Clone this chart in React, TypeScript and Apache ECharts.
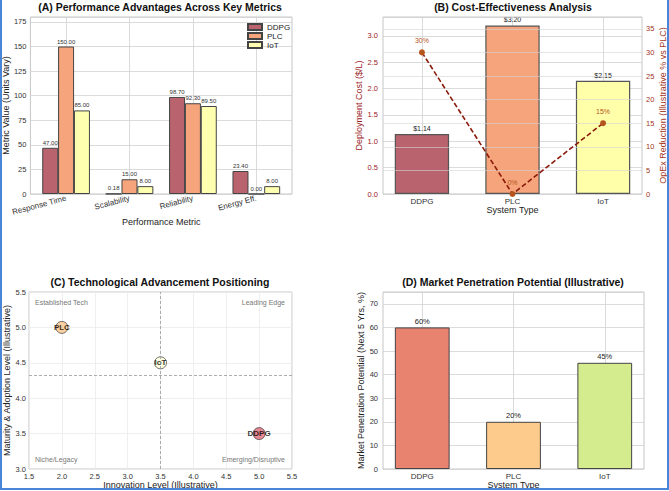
import React, { useEffect, useRef } from "react";
import * as echarts from "echarts";

// ---- data ----
const systems = ["DDPG", "PLC", "IoT"];
const metrics = ["Response Time", "Scalability", "Reliability", "Energy Eff."];
const perfDDPG = [47.0, 0.18, 98.7, 23.4];
const perfPLC = [150.0, 15.0, 92.3, 0.0];
const perfIoT = [85.0, 8.0, 89.5, 8.0];

const deploymentCost = [1.14, 3.2, 2.15];
const opexReduction = [30, 0, 15];

const innovationLevel = [5.0, 2.0, 3.5];
const maturityLevel = [3.5, 5.0, 4.5];

const marketPotential = [60, 20, 45];

const quadrantLabels = ["Established Tech", "Leading Edge", "Niche/Legacy", "Emerging/Disruptive"];

// ---- styling ----
const FONT = "'Liberation Sans', Arial, sans-serif";
const perfColors = ["#b8636e", "#f6a47c", "#ffffb0"];
const costColors = ["#b8636e", "#f6a47c", "#ffffaa"];
const posColors = ["#e06b78", "#fdc78b", "#fefed8"];
const marketColors = ["#e8836f", "#fdcc8c", "#d5ec8e"];
const GRID_LINE = "#d2d2d2";
const FRAME = "#c6c6c6";
const COST_RED = "#9b2226";
const OPEX_RED = "#a3361c";
const OPEX_MARK = "#b5551d";

const grids = [
  { left: 28, top: 17, width: 264, height: 177 },
  { left: 383, top: 17, width: 259, height: 177 },
  { left: 29, top: 292, width: 263, height: 177 },
  { left: 383, top: 292, width: 261, height: 177 },
];

const catMin = -0.43;
const catMax = 2.43;
const perfMin = -0.5625;
const perfMax = 3.5625;

const tickLabel = { fontSize: 7.5, color: "#333", fontFamily: FONT };
const axisName = { fontSize: 9, color: "#222", fontFamily: FONT };

function mean(a: number[]) {
  return a.reduce((s, v) => s + v, 0) / a.length;
}

function buildOption() {
  const perfSeries = [perfDDPG, perfPLC, perfIoT];
  const perfBarPx = (0.25 * grids[0].width) / (perfMax - perfMin);
  const costBarPx = (0.6 * grids[1].width) / (catMax - catMin);
  const marketBarPx = (0.6 * grids[3].width) / (catMax - catMin);

  const baseAxis = (gridIndex: number) => ({
    type: "value" as const,
    gridIndex,
    axisLine: { show: false },
    axisTick: { show: false },
    splitLine: { show: true, lineStyle: { color: GRID_LINE, width: 0.8 } },
    nameLocation: "middle" as const,
    nameTextStyle: axisName,
  });

  const series: any[] = [];

  // (A) grouped bars
  perfSeries.forEach((vals, k) => {
    series.push({
      type: "bar",
      name: systems[k],
      xAxisIndex: 0,
      yAxisIndex: 0,
      barWidth: perfBarPx,
      barGap: "-100%",
      data: vals.map((v, i) => [i + (k - 1) * 0.25, v]),
      itemStyle: { color: perfColors[k], borderColor: "#444", borderWidth: 1 },
      label: {
        show: true,
        position: "top",
        distance: 2,
        fontSize: 6,
        color: "#333",
        fontFamily: FONT,
        formatter: (p: any) => p.value[1].toFixed(2),
      },
    });
  });

  // (B) deployment cost bars
  series.push({
    type: "bar",
    name: "cost",
    xAxisIndex: 1,
    yAxisIndex: 1,
    barWidth: costBarPx,
    data: deploymentCost.map((v, i) => ({
      value: [i, v],
      itemStyle: { color: costColors[i] },
    })),
    itemStyle: { borderColor: "#555", borderWidth: 1.2 },
    label: {
      show: true,
      position: "top",
      distance: 2,
      fontSize: 7,
      color: "#222",
      fontFamily: FONT,
      formatter: (p: any) => "$" + p.value[1].toFixed(2),
    },
  });

  // (B) OpEx reduction line on the right axis
  series.push({
    type: "line",
    name: "opex",
    xAxisIndex: 1,
    yAxisIndex: 2,
    z: 5,
    data: opexReduction.map((v, i) => [i, v]),
    lineStyle: { color: "#8b1a0a", width: 1.6, type: [5, 2.5] },
    symbol: "circle",
    symbolSize: 6,
    itemStyle: { color: OPEX_MARK },
    label: {
      show: true,
      position: "top",
      distance: 5,
      fontSize: 7,
      color: OPEX_MARK,
      fontFamily: FONT,
      formatter: (p: any) => p.value[1] + "%",
    },
  });

  // (C) positioning scatter
  series.push({
    type: "scatter",
    name: "position",
    xAxisIndex: 2,
    yAxisIndex: 3,
    symbolSize: 12,
    data: systems.map((s, i) => ({
      name: s,
      value: [innovationLevel[i], maturityLevel[i]],
      itemStyle: { color: posColors[i] },
    })),
    itemStyle: { borderColor: "#222", borderWidth: 0.8 },
    label: {
      show: true,
      position: "inside",
      formatter: (p: any) => p.name,
      fontSize: 8,
      fontWeight: "bold",
      color: "#000",
      fontFamily: FONT,
    },
    markLine: {
      silent: true,
      symbol: "none",
      label: { show: false },
      lineStyle: { color: "#999", width: 0.8, type: [3, 2] },
      data: [{ xAxis: mean(innovationLevel) }, { yAxis: mean(maturityLevel) }],
    },
  });

  // (D) market penetration bars
  series.push({
    type: "bar",
    name: "market",
    xAxisIndex: 3,
    yAxisIndex: 4,
    barWidth: marketBarPx,
    data: marketPotential.map((v, i) => ({
      value: [i, v],
      itemStyle: { color: marketColors[i] },
    })),
    itemStyle: { borderColor: "#444", borderWidth: 1 },
    label: {
      show: true,
      position: "top",
      distance: 2,
      fontSize: 7.5,
      color: "#222",
      fontFamily: FONT,
      formatter: (p: any) => p.value[1] + "%",
    },
  });

  const title = (text: string, x: number, y: number) => ({
    type: "text",
    x,
    y,
    z: 10,
    style: {
      text,
      fill: "#111",
      fontSize: 10.5,
      fontWeight: "bold",
      fontFamily: FONT,
      align: "center",
      verticalAlign: "middle",
      textAlign: "center",
      textVerticalAlign: "middle",
    },
  });
  const note = (text: string, x: number, y: number, align: string) => ({
    type: "text",
    x,
    y,
    z: 10,
    style: {
      text,
      fill: "#777",
      fontSize: 7,
      fontFamily: FONT,
      align,
      verticalAlign: "middle",
      textAlign: align,
      textVerticalAlign: "middle",
    },
  });

  const indexTicks = (names: string[]) => names.map((_, i) => i);

  return {
    animation: false,
    backgroundColor: "#fff",
    textStyle: { fontFamily: FONT },
    grid: grids.map((g) => ({
      ...g,
      show: true,
      borderColor: FRAME,
      borderWidth: 1,
      backgroundColor: "transparent",
    })),
    legend: {
      data: systems,
      orient: "vertical",
      left: 242,
      top: 18,
      itemWidth: 14,
      itemHeight: 6,
      itemGap: 1,
      icon: "rect",
      textStyle: { fontSize: 8, color: "#222", fontFamily: FONT },
    },
    xAxis: [
      {
        ...baseAxis(0),
        min: perfMin,
        max: perfMax,
        axisTick: { show: false, customValues: indexTicks(metrics) },
        axisLabel: {
          ...tickLabel,
          fontSize: 8,
          customValues: indexTicks(metrics),
          rotate: 15,
          margin: 4,
          formatter: (v: number) => metrics[Math.round(v)],
        },
        name: "Performance Metric",
        nameGap: 21,
      },
      {
        ...baseAxis(1),
        min: catMin,
        max: catMax,
        axisTick: { show: false, customValues: indexTicks(systems) },
        axisLabel: {
          ...tickLabel,
          fontSize: 8,
          customValues: indexTicks(systems),
          margin: 3,
          formatter: (v: number) => systems[Math.round(v)],
        },
        name: "System Type",
        nameGap: 9,
      },
      {
        ...baseAxis(2),
        min: 1.5,
        max: 5.5,
        interval: 0.5,
        splitLine: { show: true, lineStyle: { color: "#ebebeb", width: 0.8 } },
        axisLabel: { ...tickLabel, margin: 3, formatter: (v: number) => v.toFixed(1) },
        name: "Innovation Level (Illustrative)",
        nameGap: 8,
      },
      {
        ...baseAxis(3),
        min: catMin,
        max: catMax,
        axisTick: { show: false, customValues: indexTicks(systems) },
        axisLabel: {
          ...tickLabel,
          fontSize: 8,
          customValues: indexTicks(systems),
          margin: 3,
          formatter: (v: number) => systems[Math.round(v)],
        },
        name: "System Type",
        nameGap: 7,
      },
    ],
    yAxis: [
      {
        ...baseAxis(0),
        min: 0,
        max: 180,
        interval: 25,
        axisLabel: { ...tickLabel, margin: 4, showMaxLabel: false },
        name: "Metric Value (Units Vary)",
        nameGap: 15,
      },
      {
        ...baseAxis(1),
        min: 0,
        max: 3.36,
        interval: 0.5,
        axisLabel: {
          ...tickLabel,
          color: COST_RED,
          margin: 5,
          showMaxLabel: false,
          formatter: (v: number) => v.toFixed(1),
        },
        name: "Deployment Cost ($/L)",
        nameTextStyle: { ...axisName, color: COST_RED },
        nameGap: 15,
      },
      {
        ...baseAxis(1),
        position: "right",
        z: 3,
        min: 0,
        max: 37.5,
        interval: 5,
        splitLine: { show: true, lineStyle: { color: "#d4d4d4", width: 0.8, opacity: 0.75 } },
        axisLabel: { ...tickLabel, color: OPEX_RED, margin: 4, showMaxLabel: false },
        name: "OpEx Reduction (Illustrative % vs PLC)",
        nameTextStyle: { ...axisName, color: OPEX_RED },
        nameGap: 13,
      },
      {
        ...baseAxis(2),
        min: 3,
        max: 5.5,
        interval: 0.5,
        splitLine: { show: true, lineStyle: { color: "#ebebeb", width: 0.8 } },
        axisLabel: { ...tickLabel, margin: 3, formatter: (v: number) => v.toFixed(1) },
        name: "Maturity & Adoption Level (Illustrative)",
        nameGap: 15,
      },
      {
        ...baseAxis(3),
        min: 0,
        max: 75,
        interval: 10,
        axisLabel: { ...tickLabel, margin: 5, showMaxLabel: false },
        name: "Market Penetration Potential (Next 5 Yrs, %)",
        nameGap: 12,
      },
    ],
    series,
    graphic: [
      title("(A) Performance Advantages Across Key Metrics", 160, 7),
      title("(B) Cost-Effectiveness Analysis", 513, 7),
      title("(C) Technological Advancement Positioning", 160, 282),
      title("(D) Market Penetration Potential (Illustrative)", 513, 282),
      note(quadrantLabels[0], 35, 302, "left"),
      note(quadrantLabels[1], 285, 302, "right"),
      note(quadrantLabels[2], 35, 459, "left"),
      note(quadrantLabels[3], 285, 459, "right"),
      {
        type: "rect",
        z: 20,
        silent: true,
        shape: { x: 1, y: -5, width: 667, height: 494 },
        style: { fill: "none", stroke: "#4a86d8", lineWidth: 2 },
      },
    ],
  };
}

export default function App() {
  const ref = useRef<HTMLDivElement>(null);
  useEffect(() => {
    if (!ref.current) return;
    const chart = echarts.init(ref.current, undefined, { renderer: "svg" });
    chart.setOption(buildOption() as any);
    return () => chart.dispose();
  }, []);
  return (
    <div
      ref={ref}
      style={{ position: "fixed", left: 0, top: 0, width: 669, height: 491, background: "#fff" }}
    />
  );
}
